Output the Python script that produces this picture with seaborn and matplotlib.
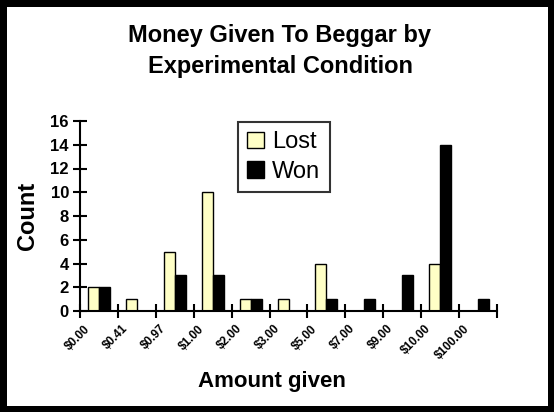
import numpy as np
import pandas as pd
import matplotlib
matplotlib.use("Agg")
import matplotlib.pyplot as plt
import matplotlib.transforms as mtransforms
from matplotlib.patches import Patch
import seaborn as sns

# ── Data ───────────────────────────────────────────────
amounts = ["$0.00", "$0.41", "$0.97", "$1.00", "$2.00", "$3.00",
           "$5.00", "$7.00", "$9.00", "$10.00", "$100.00"]
lost = [2, 1, 5, 10, 1, 1, 4, 0, 0, 4, 0]
won = [2, 0, 3, 3, 1, 0, 1, 1, 3, 14, 1]
conditions = ["Lost", "Won"]
colors = ["#FFFFC6", "#000000"]

df = pd.DataFrame({
    "Amount": amounts * 2,
    "Count": lost + won,
    "Condition": ["Lost"] * len(lost) + ["Won"] * len(won),
})

# ── Setup ──────────────────────────────────────────────
sns.set_theme(style="white")
plt.rcParams["font.family"] = ["Liberation Sans", "DejaVu Sans"]
plt.rcParams["text.color"] = "black"
plt.rcParams["axes.labelcolor"] = "black"
plt.rcParams["xtick.color"] = "black"
plt.rcParams["ytick.color"] = "black"

fig = plt.figure(figsize=(5.54, 4.12), dpi=100)
fig.patch.set_edgecolor("black")
fig.patch.set_linewidth(9)
ax = fig.add_axes([80 / 554, 1 - 311 / 412, 417 / 554, 190 / 412])

sns.barplot(data=df, x="Amount", y="Count", hue="Condition",
            hue_order=conditions, palette=colors, width=0.58,
            edgecolor="black", linewidth=1, saturation=1,
            legend=False, ax=ax)

ax.set_xlim(-0.5, len(amounts) - 0.5)
ax.set_ylim(0, 16)
ax.set_yticks(range(0, 17, 2))
ax.set_yticklabels([str(v) for v in range(0, 17, 2)],
                   fontsize=12, fontweight="bold")

# category boundary ticks, labels under the bars
ax.set_xticks(np.arange(len(amounts) + 1) - 0.5, minor=True)
ax.set_xticks(np.arange(len(amounts)))
ax.tick_params(axis="x", which="major", length=0, pad=8.5)
ax.tick_params(axis="x", which="minor", direction="inout", length=10,
               width=1.5, color="black", bottom=True)
ax.tick_params(axis="y", direction="inout", length=10, width=1.5,
               color="black", left=True, pad=3)
ax.set_xticklabels(amounts, rotation=45, ha="right", va="top",
                   rotation_mode="anchor", fontsize=8.5, fontweight="bold")
shift = mtransforms.ScaledTranslation(-15 / 100, 0, fig.dpi_scale_trans)
for lbl in ax.get_xticklabels():
    lbl.set_transform(lbl.get_transform() + shift)

for side in ["top", "right"]:
    ax.spines[side].set_visible(False)
for side in ["left", "bottom"]:
    ax.spines[side].set_color("black")
    ax.spines[side].set_linewidth(1.5)

ax.set_xlabel("Amount given", fontsize=16, fontweight="bold")
ax.xaxis.set_label_coords((272 - 80) / 417, (311 - 371) / 190)
ax.set_ylabel("Count", fontsize=17, fontweight="bold", labelpad=8)

fig.text(280 / 554, 1 - 51 / 412,
         "Money Given To Beggar by\nExperimental Condition",
         ha="center", va="center", fontsize=17, fontweight="bold",
         linespacing=1.4)

handles = [Patch(facecolor=c, edgecolor="black", linewidth=1) for c in colors]
leg = ax.legend(handles, conditions, loc="upper left",
                bbox_to_anchor=(238 / 554, 1 - 122 / 412),
                bbox_transform=fig.transFigure, borderaxespad=0,
                fontsize=17, frameon=True, fancybox=False,
                handlelength=0.7, handleheight=0.7, handletextpad=0.35,
                labelspacing=0.3, borderpad=0.4)
leg.get_frame().set_edgecolor("black")
leg.get_frame().set_linewidth(1.5)

plt.savefig("out.png", dpi=100)
plt.close()
